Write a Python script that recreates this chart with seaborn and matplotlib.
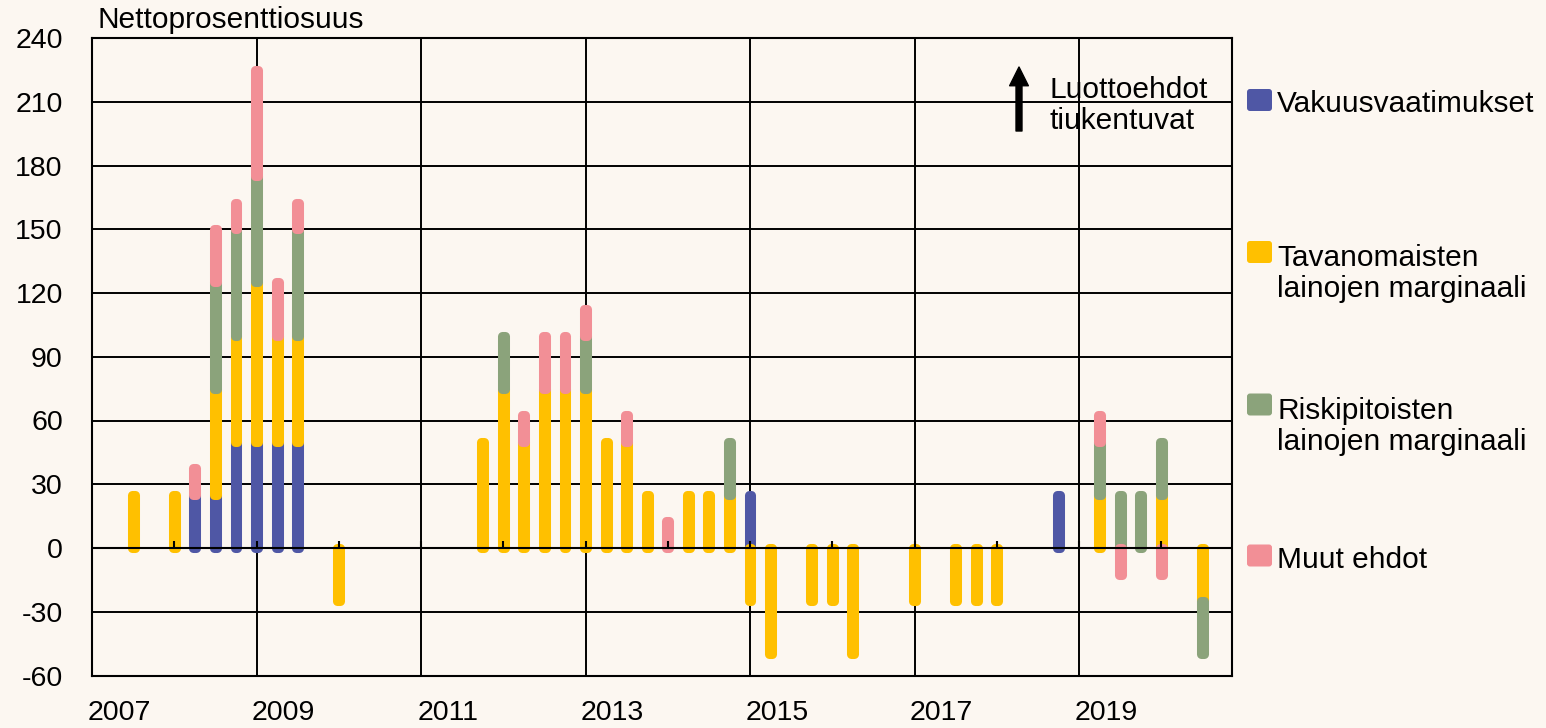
import matplotlib
matplotlib.use("Agg")
import numpy as np
import pandas as pd
import matplotlib.pyplot as plt
import matplotlib.transforms as mtransforms
from matplotlib.patches import FancyBboxPatch
import seaborn as sns

# quarters 2007Q3 .. 2020Q3
quarters = (["2007Q3", "2007Q4"]
            + [f"{y}Q{q}" for y in range(2008, 2020) for q in range(1, 5)]
            + ["2020Q1", "2020Q2", "2020Q3"])

vakuus = [0, 0,
          0, 25, 25, 50,
          50, 50, 50, 0,
          0, 0, 0, 0,
          0, 0, 0, 0,
          0, 0, 0, 0,
          0, 0, 0, 0,
          0, 0, 0, 0,
          25, 0, 0, 0,
          0, 0, 0, 0,
          0, 0, 0, 0,
          0, 0, 0, 25,
          0, 0, 0, 0,
          0, 0, 0]
tavanomaiset = [25, 0,
                25, 0, 50, 50,
                75, 50, 50, 0,
                -25, 0, 0, 0,
                0, 0, 0, 50,
                75, 50, 75, 75,
                75, 50, 50, 25,
                0, 25, 25, 25,
                -25, -50, 0, -25,
                -25, -50, 0, 0,
                -25, 0, -25, -25,
                -25, 0, 0, 0,
                0, 25, 0, 0,
                25, 0, -25]
riskipitoiset = [0, 0,
                 0, 0, 50, 50,
                 50, 0, 50, 0,
                 0, 0, 0, 0,
                 0, 0, 0, 0,
                 25, 0, 0, 0,
                 25, 0, 0, 0,
                 0, 0, 0, 25,
                 0, 0, 0, 0,
                 0, 0, 0, 0,
                 0, 0, 0, 0,
                 0, 0, 0, 0,
                 0, 25, 25, 25,
                 25, 0, -25]
muut = [0, 0,
        0, 12.5, 25, 12.5,
        50, 25, 12.5, 0,
        0, 0, 0, 0,
        0, 0, 0, 0,
        0, 12.5, 25, 25,
        12.5, 0, 12.5, 0,
        12.5, 0, 0, 0,
        0, 0, 0, 0,
        0, 0, 0, 0,
        0, 0, 0, 0,
        0, 0, 0, 0,
        0, 12.5, -12.5, 0,
        -12.5, 0, 0]

series_names = ["Vakuusvaatimukset",
                "Tavanomaisten\nlainojen marginaali",
                "Riskipitoisten\nlainojen marginaali",
                "Muut ehdot"]
colors = ["#4F57A5", "#FFC000", "#8BA37B", "#F28F96"]
y_ticks = list(range(-60, 241, 30))
x_ticks = list(range(2007, 2020, 2))

BG = "#FCF7F1"
W, H = 1546, 728
LINE = 33.3  # px between text lines

sns.set_theme(style="white")
plt.rcParams["font.family"] = ["Liberation Sans", "DejaVu Sans"]
plt.rcParams["axes.unicode_minus"] = False
plt.rcParams["text.color"] = "black"

df = pd.DataFrame({"quarter": quarters,
                   series_names[0]: vakuus,
                   series_names[1]: tavanomaiset,
                   series_names[2]: riskipitoiset,
                   series_names[3]: muut})
df["x"] = df["quarter"].str[:4].astype(int) + (df["quarter"].str[-1].astype(int) - 1) / 4

fig = plt.figure(figsize=(W / 100, H / 100), dpi=100, facecolor=BG)
ax = fig.add_axes([92 / W, 1 - 675.5 / H, (1232 - 92) / W, (675.5 - 38) / H])
ax.set_facecolor(BG)

pos = np.zeros(len(df))
neg = np.zeros(len(df))
for k, (name, col) in enumerate(zip(series_names, colors)):
    vals = df[name].to_numpy(dtype=float)
    bottom = np.where(vals >= 0, pos, neg)
    m = vals != 0
    ax.bar(df["x"][m], vals[m], bottom=bottom[m], width=0.035, color=col,
           edgecolor=col, linewidth=6.5, joinstyle="round", zorder=3 + k)
    pos += np.clip(vals, 0, None)
    neg += np.clip(vals, None, 0)

# zero line with small yearly ticks
ax.axhline(0, color="black", lw=1.5, zorder=10)
ax.vlines(np.arange(2008, 2021), 0, 3.4, color="black", lw=1.5, zorder=10)

ax.set_xlim(2007, 2020.86)
ax.set_ylim(-60, 240)
ax.set_yticks(y_ticks)
ax.set_xticks(x_ticks)
ax.set_xticklabels([str(t) for t in x_ticks])
ax.grid(True, color="black", lw=1.4, zorder=1)
ax.set_axisbelow(True)
for sp in ax.spines.values():
    sp.set_color("black")
    sp.set_linewidth(1.5)
ax.tick_params(axis="both", length=0, labelsize=20.5, colors="black")
ax.tick_params(axis="y", pad=21)
ax.tick_params(axis="x", pad=18)
shift = mtransforms.ScaledTranslation(0.27, 0, fig.dpi_scale_trans)
for lab in ax.get_xticklabels():
    lab.set_transform(lab.get_transform() + shift)


def fpx(x, y):
    return x / W, 1 - y / H


def put_text(x, first_baseline, s):
    # va="baseline" anchors the last line, so move to that line's baseline
    last = first_baseline + LINE * s.count("\n")
    fig.text(*fpx(x, last), s, fontsize=21.5, va="baseline", ha="left", linespacing=1.13)


put_text(97, 28, "Nettoprosenttiosuus")

# arrow annotation
ax.annotate("", xy=(1019, H - 67), xytext=(1019, H - 131), xycoords="figure pixels",
            textcoords="figure pixels",
            arrowprops=dict(width=4.3, headwidth=13.5, headlength=13.5, color="black", shrink=0))
put_text(1050, 95.7, "Luottoehdot\ntiukentuvat")

# legend
legend_y = [112, 264, 416.5, 567.5]
for name, col, yb in zip(series_names, colors, legend_y):
    sq = FancyBboxPatch((1247, H - yb + 1), 25, 22, boxstyle="round,pad=0,rounding_size=3",
                        facecolor=col, edgecolor="none", transform=mtransforms.IdentityTransform())
    fig.add_artist(sq)
    put_text(1277, yb, name)

fig.savefig("out.png", dpi=100, facecolor=BG)
